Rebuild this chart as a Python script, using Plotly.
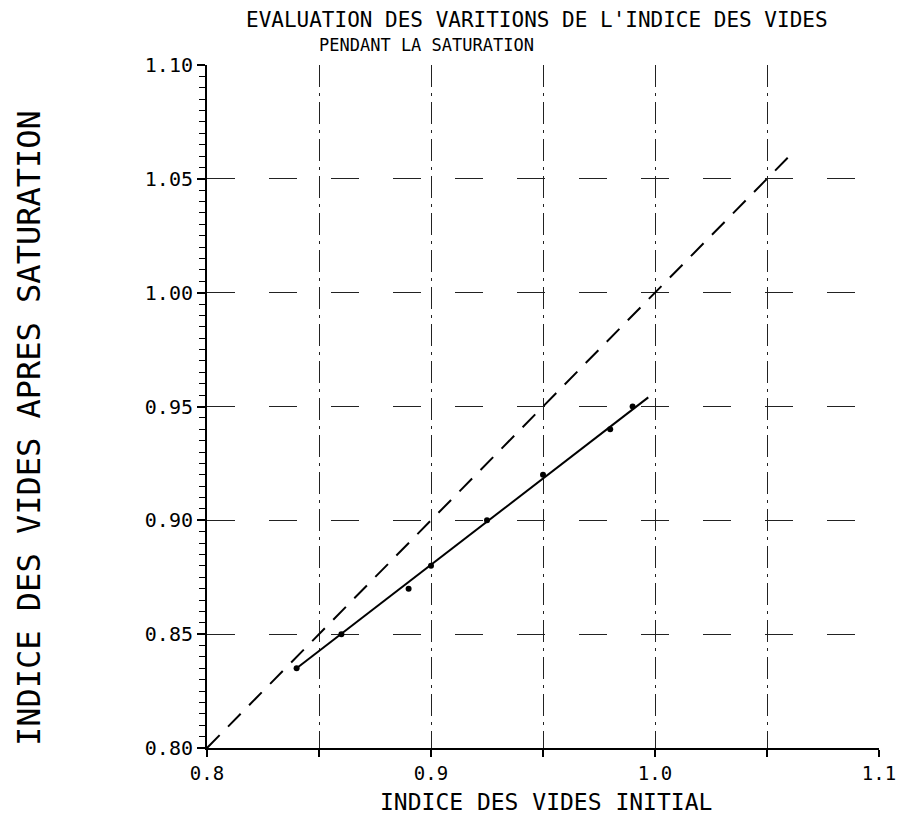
import plotly.graph_objects as go

# Data
meas_x = [0.84, 0.86, 0.89, 0.90, 0.925, 0.95, 0.98, 0.99]
meas_y = [0.835, 0.85, 0.87, 0.88, 0.90, 0.92, 0.94, 0.95]
fit_x = [0.84, 0.997]
fit_y = [0.835, 0.954]
ref_x = [0.80, 1.06]
ref_y = [0.80, 1.06]

x_tickvals = [0.80, 0.85, 0.90, 0.95, 1.00, 1.05, 1.10]
x_ticktext = ["0.8", "", "0.9", "", "1.0", "", "1.1"]
y_tickvals = [0.80, 0.85, 0.90, 0.95, 1.00, 1.05, 1.10]
y_ticktext = ["0.80", "0.85", "0.90", "0.95", "1.00", "1.05", "1.10"]

title_l1 = "EVALUATION DES VARITIONS DE L'INDICE DES VIDES"
title_l2 = "PENDANT LA SATURATION"
x_title = "INDICE DES VIDES INITIAL"
y_title = "INDICE DES VIDES APRES SATURATION"

mono = "DejaVu Sans Mono, Liberation Mono, monospace"

fig = go.Figure()
fig.add_trace(go.Scatter(x=ref_x, y=ref_y, mode="lines",
                         line=dict(color="black", width=2, dash="18px,12px"),
                         showlegend=False, hoverinfo="skip"))
fig.add_trace(go.Scatter(x=fit_x, y=fit_y, mode="lines",
                         line=dict(color="black", width=2),
                         showlegend=False))
fig.add_trace(go.Scatter(x=meas_x, y=meas_y, mode="markers",
                         marker=dict(color="black", size=6),
                         showlegend=False))

# page has an 8px body margin; plot area should sit at x 207..879, y 65..748
fig.update_layout(
    width=916, height=814,
    margin=dict(l=199, r=45, t=57, b=74),
    paper_bgcolor="white", plot_bgcolor="white",
    font=dict(family=mono, color="black"),
    xaxis=dict(range=[0.8, 1.1], tickvals=x_tickvals, ticktext=x_ticktext,
               showline=True, linecolor="black", linewidth=2,
               ticks="outside", ticklen=7, tickcolor="black", tickwidth=1.5,
               showgrid=True, gridcolor="#222", gridwidth=1,
               griddash="22px,6px,3px,6px",
               tickfont=dict(size=19, family=mono), zeroline=False),
    yaxis=dict(range=[0.8, 1.1], tickvals=y_tickvals, ticktext=y_ticktext,
               showline=True, linecolor="black", linewidth=2,
               ticks="outside", ticklen=8, tickcolor="black", tickwidth=1.5,
               showgrid=True, gridcolor="#222", gridwidth=1,
               griddash="28px,34px",
               minor=dict(dtick=0.005, ticks="outside", ticklen=6,
                          tickcolor="black", tickwidth=1.2, showgrid=False),
               tickfont=dict(size=20, family=mono), zeroline=False),
)

# paper coords: x 0->207px, 1->879px ; y 0->748px, 1->65px (page pixels)
def px_x(p):
    return (p - 207) / 672.0

def px_y(p):
    return (748 - p) / 683.0

fig.add_annotation(text=title_l1, xref="paper", yref="paper", x=px_x(245), y=px_y(20),
                   xanchor="left", yanchor="middle", showarrow=False, borderpad=0,
                   font=dict(size=21, family=mono, color="black"))
fig.add_annotation(text=title_l2, xref="paper", yref="paper", x=px_x(318), y=px_y(45),
                   xanchor="left", yanchor="middle", showarrow=False, borderpad=0,
                   font=dict(size=17, family=mono, color="black"))
fig.add_annotation(text=x_title, xref="paper", yref="paper", x=px_x(546), y=px_y(802),
                   xanchor="center", yanchor="middle", showarrow=False, borderpad=0,
                   font=dict(size=23, family=mono, color="black"))
fig.add_annotation(text=y_title, xref="paper", yref="paper", x=px_x(29), y=px_y(428),
                   xanchor="center", yanchor="middle", showarrow=False, textangle=-90,
                   borderpad=0, font=dict(size=32, family=mono, color="black"))

fig.write_html("out.html")
